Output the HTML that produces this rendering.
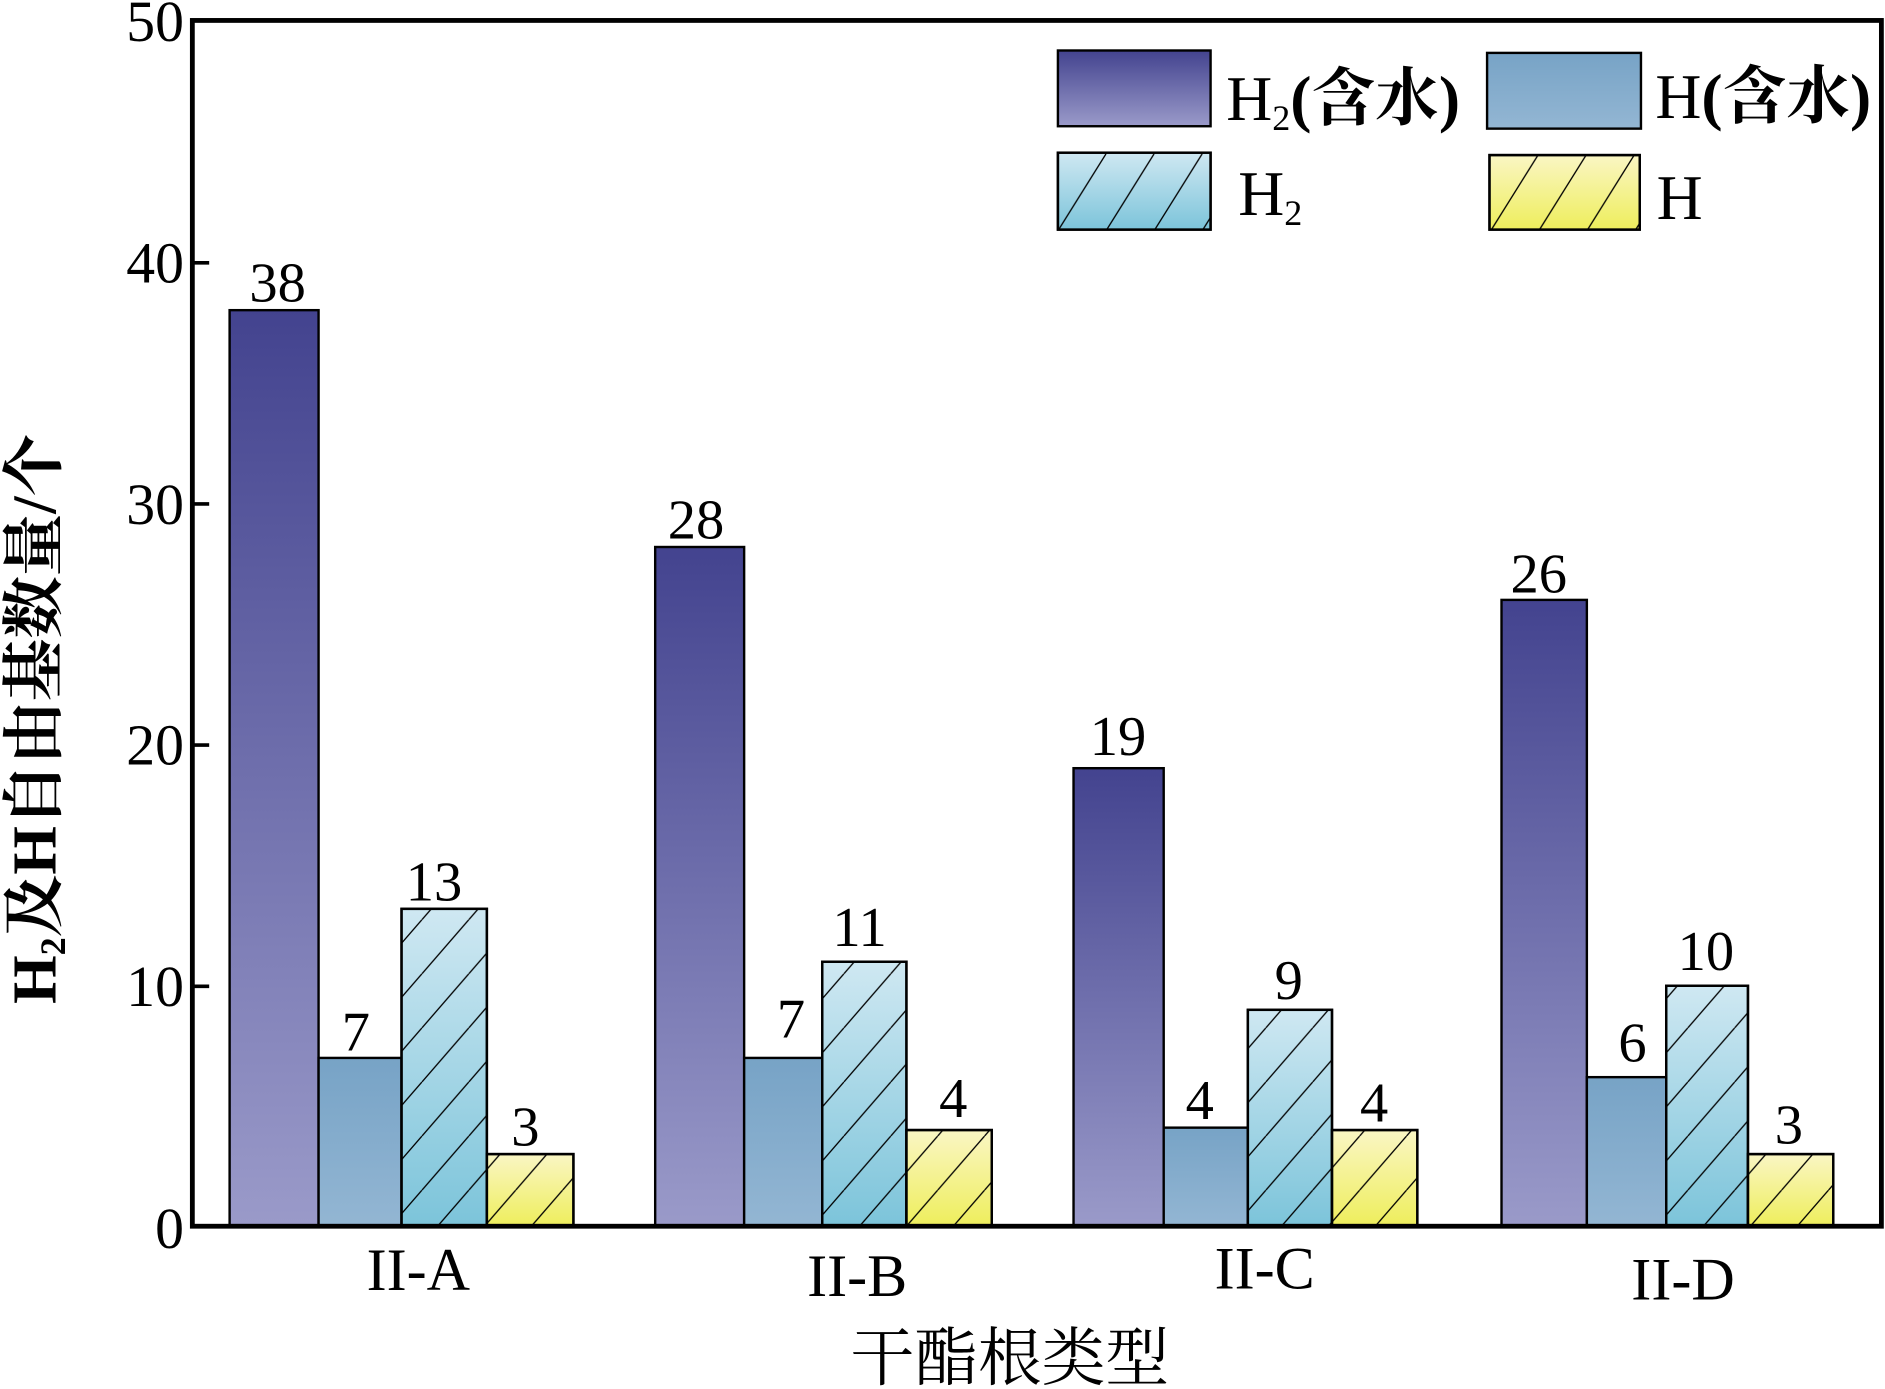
<!DOCTYPE html>
<html><head><meta charset="utf-8"><style>
html,body{margin:0;padding:0;background:#fff;}
svg{display:block;}
text{font-family:"Liberation Serif","Noto Serif CJK SC",serif;fill:#000;}
</style></head><body>
<svg width="1885" height="1389" viewBox="0 0 1568 1155.4" preserveAspectRatio="none" xmlns="http://www.w3.org/2000/svg">
<defs>
<linearGradient id="g1" x1="0" y1="0" x2="0" y2="1"><stop offset="0" stop-color="#43438f"/><stop offset="1" stop-color="#9a9ac9"/></linearGradient>
<linearGradient id="g2" x1="0" y1="0" x2="0" y2="1"><stop offset="0" stop-color="#77a3c6"/><stop offset="1" stop-color="#93b6d3"/></linearGradient>
<linearGradient id="g3" x1="0" y1="0" x2="0" y2="1"><stop offset="0" stop-color="#cfe8f2"/><stop offset="1" stop-color="#7cc4da"/></linearGradient>
<linearGradient id="g4" x1="0" y1="0" x2="0" y2="1"><stop offset="0" stop-color="#faf6c4"/><stop offset="1" stop-color="#eeee5c"/></linearGradient>
<pattern id="hatch" patternUnits="userSpaceOnUse" width="39" height="45">
<path d="M0,45 L39,0 M-39,45 L0,0 M39,45 L78,0" stroke="#000" stroke-width="1.1"/>
</pattern>
<pattern id="hatchL" patternUnits="userSpaceOnUse" width="40" height="64">
<path d="M0,64 L40,0 M-40,64 L0,0 M40,64 L80,0" stroke="#000" stroke-width="1.1"/>
</pattern>
</defs>

<g stroke="#000" stroke-width="2">
<rect x="191" y="258" width="74" height="762" fill="url(#g1)"/>
<rect x="265" y="880" width="69" height="140" fill="url(#g2)"/>
<rect x="334" y="756" width="71" height="264" fill="url(#g3)"/>
<rect x="334" y="756" width="71" height="264" fill="url(#hatch)"/>
<rect x="405" y="960" width="72" height="60" fill="url(#g4)"/>
<rect x="405" y="960" width="72" height="60" fill="url(#hatch)"/>

<rect x="545" y="455" width="74" height="565" fill="url(#g1)"/>
<rect x="619" y="880" width="65" height="140" fill="url(#g2)"/>
<rect x="684" y="800" width="70" height="220" fill="url(#g3)"/>
<rect x="684" y="800" width="70" height="220" fill="url(#hatch)"/>
<rect x="754" y="940" width="71" height="80" fill="url(#g4)"/>
<rect x="754" y="940" width="71" height="80" fill="url(#hatch)"/>

<rect x="893" y="639" width="75" height="381" fill="url(#g1)"/>
<rect x="968" y="938" width="70" height="82" fill="url(#g2)"/>
<rect x="1038" y="840" width="70" height="180" fill="url(#g3)"/>
<rect x="1038" y="840" width="70" height="180" fill="url(#hatch)"/>
<rect x="1108" y="940" width="71" height="80" fill="url(#g4)"/>
<rect x="1108" y="940" width="71" height="80" fill="url(#hatch)"/>

<rect x="1249" y="499" width="71" height="521" fill="url(#g1)"/>
<rect x="1320" y="896" width="66" height="124" fill="url(#g2)"/>
<rect x="1386" y="820" width="68" height="200" fill="url(#g3)"/>
<rect x="1386" y="820" width="68" height="200" fill="url(#hatch)"/>
<rect x="1454" y="960" width="71" height="60" fill="url(#g4)"/>
<rect x="1454" y="960" width="71" height="60" fill="url(#hatch)"/>
</g>

<g font-size="47" text-anchor="middle">
<text x="231" y="251">38</text><text x="296" y="874">7</text><text x="361" y="749">13</text><text x="437" y="953">3</text>
<text x="579" y="448">28</text><text x="658" y="863">7</text><text x="715" y="787">11</text><text x="793" y="929">4</text>
<text x="930" y="628">19</text><text x="998" y="931">4</text><text x="1072" y="831">9</text><text x="1143" y="933">4</text>
<text x="1280" y="493">26</text><text x="1358" y="883">6</text><text x="1419" y="807">10</text><text x="1488" y="951">3</text>
</g>

<rect x="160" y="17" width="1405" height="1003" fill="none" stroke="#000" stroke-width="4"/>
<g stroke="#000" stroke-width="3">
<line x1="160" y1="218.6" x2="174" y2="218.6"/>
<line x1="160" y1="419.2" x2="174" y2="419.2"/>
<line x1="160" y1="619.8" x2="174" y2="619.8"/>
<line x1="160" y1="820.4" x2="174" y2="820.4"/>
</g>
<g font-size="48" text-anchor="end">
<text x="153" y="34">50</text>
<text x="153" y="235">40</text>
<text x="153" y="436">30</text>
<text x="153" y="636">20</text>
<text x="153" y="837">10</text>
<text x="153" y="1038">0</text>
</g>

<g font-size="50" text-anchor="middle">
<text x="348" y="1073">II-A</text>
<text x="713" y="1078">II-B</text>
<text x="1052" y="1072">II-C</text>
<text x="1400" y="1081">II-D</text>
</g>
<text x="840" y="1148" font-size="53" text-anchor="middle">干酯根类型</text>

<text transform="translate(46,598) rotate(-90)" font-size="52" font-weight="bold" text-anchor="middle">H<tspan font-size="30" dy="8">2</tspan><tspan dy="-8">及H自由基数量/个</tspan></text>

<g stroke="#000" stroke-width="2">
<rect x="880" y="42" width="127" height="63" fill="url(#g1)"/>
<rect x="1237" y="44" width="128" height="63" fill="url(#g2)"/>
<rect x="880" y="127" width="127" height="64" fill="url(#g3)"/>
<rect x="880" y="127" width="127" height="64" fill="url(#hatchL)"/>
<rect x="1239" y="129" width="125" height="62" fill="url(#g4)"/>
<rect x="1239" y="129" width="125" height="62" fill="url(#hatchL)"/>
</g>
<g font-size="53">
<text x="1020" y="100">H<tspan font-size="30" dy="8">2</tspan><tspan dy="-8" font-weight="bold">(含水)</tspan></text>
<text x="1377" y="98">H<tspan font-weight="bold">(含水)</tspan></text>
<text x="1030" y="179">H<tspan font-size="30" dy="8">2</tspan></text>
<text x="1378" y="182">H</text>
</g>
</svg>
</body></html>
